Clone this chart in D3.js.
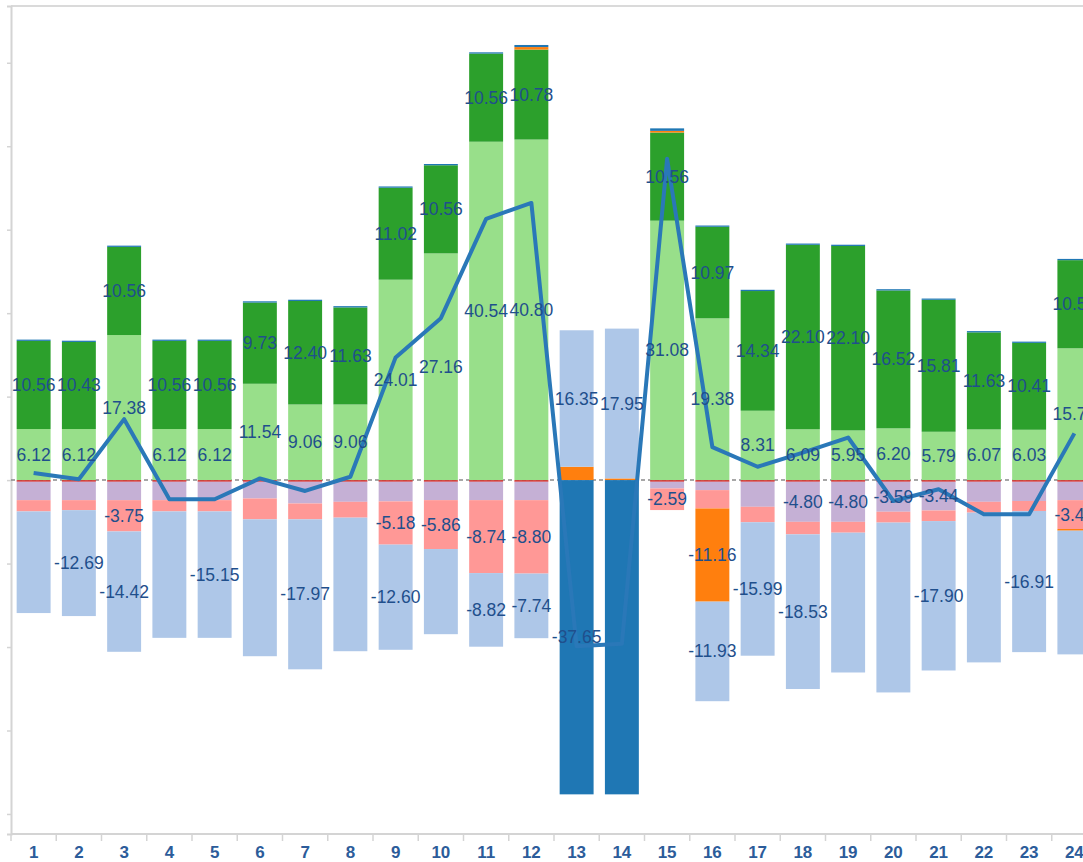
<!DOCTYPE html>
<html>
<head>
<meta charset="utf-8">
<script src="https://cdn.jsdelivr.net/npm/d3@7"></script>
<style>
  body { margin: 0; background: #fff; overflow: hidden; }
  text { font-family: "Liberation Sans", Arial, sans-serif; }
</style>
</head>
<body>
<div id="chart"></div>
<script>
// categories along the x axis
var categories = ['1', '2', '3', '4', '5', '6', '7', '8', '9', '10', '11', '12',
    '13', '14', '15', '16', '17', '18', '19', '20', '21', '22', '23', '24'];

// series values, in stacking order
var redValues = [-0.2, -0.2, -0.2, -0.2, -0.2, -0.2, -0.2, -0.2, -0.2, -0.2, -0.2, -0.2,
    0, 0, -0.2, -0.2, -0.2, -0.2, -0.2, -0.2, -0.2, -0.2, -0.2, -0.2];
var purpleValues = [-2.2, -2.2, -2.2, -2.2, -2.2, -2.0, -2.6, -2.4, -2.35, -2.2, -2.2, -2.2,
    0, 0, -0.8, -1.0, -3.0, -4.80, -4.80, -3.59, -3.44, -2.4, -2.3, -2.2];
var pinkValues = [-1.35, -1.2, -3.75, -1.35, -1.35, -2.5, -1.9, -1.9, -5.18, -5.86, -8.74, -8.80,
    0, 0, -2.59, -2.2, -1.85, -1.5, -1.3, -1.3, -1.27, -1.3, -1.2, -3.46];
var lightGreenValues = [6.12, 6.12, 17.38, 6.12, 6.12, 11.54, 9.06, 9.06, 24.01, 27.16, 40.54, 40.80,
    0, 0, 31.08, 19.38, 8.31, 6.09, 5.95, 6.20, 5.79, 6.07, 6.03, 15.79];
var greenValues = [10.56, 10.43, 10.56, 10.56, 10.56, 9.73, 12.40, 11.63, 11.02, 10.56, 10.56, 10.78,
    0, 0, 10.56, 10.97, 14.34, 22.10, 22.10, 16.52, 15.81, 11.63, 10.41, 10.56];
var orangeValues = [0, 0, 0, 0, 0, 0, 0, 0, 0, 0, 0, 0.3,
    1.6, 0.2, 0.2, -11.16, 0, 0, 0, 0, 0, 0, 0, -0.2];
var lightBlueValues = [-12.18, -12.69, -14.42, -15.15, -15.15, -16.4, -17.97, -16.0, -12.60, -10.2, -8.82, -7.74,
    16.35, 17.95, 0, -11.93, -15.99, -18.53, -16.75, -20.35, -17.90, -17.94, -16.91, -14.82];
var darkBlueValues = [0.15, 0.15, 0.15, 0.15, 0.15, 0.15, 0.15, 0.15, 0.15, 0.15, 0.15, 0.25,
    -37.65, -37.65, 0.3, 0.15, 0.15, 0.15, 0.15, 0.15, 0.15, 0.15, 0.15, 0.15];

// net total per category, drawn as the line
var netValues = [0.84, 0.1, 7.3, -2.3, -2.3, 0.2, -1.3, 0.4, 14.7, 19.4, 31.3, 33.2,
    -19.9, -19.6, 38.5, 3.95, 1.6, 3.3, 5.1, -2.5, -1.1, -4.1, -4.1, 5.6];

// which categories carry a value label, per series
var labelled = {
    red: [],
    purple: ['18', '19', '20', '21'],
    pink: ['3', '9', '10', '11', '12', '15', '24'],
    lightGreen: categories,
    green: categories,
    orange: ['16'],
    lightBlue: ['2', '3', '5', '7', '9', '11', '12', '13', '14', '16', '17', '18', '21', '23'],
    darkBlue: ['13']
};

var series = [
    { key: 'red', color: '#d62728', values: redValues },
    { key: 'purple', color: '#c5b0d5', values: purpleValues },
    { key: 'pink', color: '#ff9896', values: pinkValues },
    { key: 'lightGreen', color: '#98df8a', values: lightGreenValues },
    { key: 'green', color: '#2ca02c', values: greenValues },
    { key: 'orange', color: '#ff7f0e', values: orangeValues },
    { key: 'lightBlue', color: '#aec7e8', values: lightBlueValues },
    { key: 'darkBlue', color: '#1f77b4', values: darkBlueValues }
];

var width = 1083, height = 862;

// build one row per category for d3.stack
var rows = categories.map(function (c, i) {
    var row = { category: c };
    series.forEach(function (s) {
        row[s.key] = s.values[i];
    });
    return row;
});

var stacked = d3.stack()
    .keys(series.map(function (s) { return s.key; }))
    .offset(d3.stackOffsetDiverging)(rows);

var color = {};
series.forEach(function (s) { color[s.key] = s.color; });

var x = d3.scaleBand()
    .domain(categories)
    .range([11, 1097])
    .paddingInner(0.25)
    .paddingOuter(0.125);

var y = d3.scaleLinear()
    .domain([-42.4, 56.8])
    .range([834, 6]);

// plain hyphen for negatives, like the original
var fmt = function (v) { return d3.format('.2f')(v).replace('\u2212', '-'); };

var svg = d3.select('#chart').append('svg')
    .attr('width', width)
    .attr('height', height);

//frame: top rule and left axis with bare ticks
svg.append('line')
    .attr('x1', 11).attr('x2', width)
    .attr('y1', 6).attr('y2', 6)
    .attr('stroke', '#dadada')
    .attr('stroke-width', 2);

var yAxis = svg.append('g')
    .attr('transform', 'translate(11,0)')
    .call(d3.axisLeft(y).ticks(10).tickSize(4).tickFormat(''));
yAxis.select('.domain').attr('stroke', '#d4d4d4').attr('stroke-width', 2);
yAxis.selectAll('.tick line').attr('stroke', '#d4d4d4').attr('stroke-width', 1.5);

//dashed zero line behind the bars
svg.append('line')
    .attr('x1', 11).attr('x2', width)
    .attr('y1', y(0)).attr('y2', y(0))
    .attr('stroke', '#8a8a8a')
    .attr('stroke-width', 1.5)
    .attr('stroke-dasharray', '4,3');

//stacked bars
var layer = svg.append('g')
    .selectAll('g')
    .data(stacked)
    .enter()
    .append('g')
    .attr('fill', function (d) { return color[d.key]; });

layer.selectAll('rect')
    .data(function (d) { return d; })
    .enter()
    .append('rect')
    .attr('x', function (d) { return x(d.data.category); })
    .attr('width', x.bandwidth())
    .attr('y', function (d) { return y(Math.max(d[0], d[1])); })
    .attr('height', function (d) { return Math.abs(y(d[0]) - y(d[1])); });

//x axis: rule, band separators and category labels
svg.append('line')
    .attr('x1', 11).attr('x2', width)
    .attr('y1', 834).attr('y2', 834)
    .attr('stroke', '#d4d4d4')
    .attr('stroke-width', 2);

svg.append('g')
    .selectAll('line')
    .data(d3.range(categories.length + 1))
    .enter()
    .append('line')
    .attr('x1', function (i) { return 11 + i * x.step(); })
    .attr('x2', function (i) { return 11 + i * x.step(); })
    .attr('y1', 834).attr('y2', 841)
    .attr('stroke', '#d4d4d4')
    .attr('stroke-width', 1.5);

svg.append('g')
    .selectAll('text')
    .data(categories)
    .enter()
    .append('text')
    .attr('x', function (c) { return x(c) + x.bandwidth() / 2; })
    .attr('y', 852)
    .attr('text-anchor', 'middle')
    .attr('dominant-baseline', 'central')
    .attr('font-size', 17)
    .attr('font-weight', 'bold')
    .attr('fill', '#2c5c9a')
    .text(function (c) { return c; });

//net line
var line = d3.line()
    .x(function (d, i) { return x(categories[i]) + x.bandwidth() / 2; })
    .y(function (d) { return y(d); });

svg.append('path')
    .datum(netValues)
    .attr('fill', 'none')
    .attr('stroke', '#2a78b8')
    .attr('stroke-width', 4)
    .attr('stroke-linejoin', 'round')
    .attr('d', line);

//value labels in the middle of each labelled segment
var labelData = [];
stacked.forEach(function (s) {
    s.forEach(function (d, i) {
        var v = rows[i][s.key];
        if (v !== 0 && labelled[s.key].indexOf(d.data.category) >= 0) {
            labelData.push({ category: d.data.category, value: v, mid: (d[0] + d[1]) / 2 });
        }
    });
});

svg.append('g')
    .selectAll('text')
    .data(labelData)
    .enter()
    .append('text')
    .attr('x', function (d) { return x(d.category) + x.bandwidth() / 2; })
    .attr('y', function (d) { return y(d.mid); })
    .attr('text-anchor', 'middle')
    .attr('dominant-baseline', 'central')
    .attr('font-size', 17.5)
    .attr('fill', '#1f4f8c')
    .text(function (d) { return fmt(d.value); });
</script>
</body>
</html>
